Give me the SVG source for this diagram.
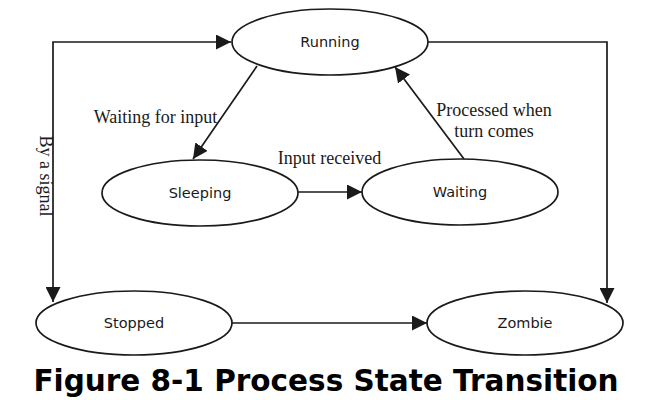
<svg xmlns="http://www.w3.org/2000/svg" width="656" height="400" viewBox="0 0 656 400">
<style>
.node{fill:#fff;stroke:#1a1a1a;stroke-width:1.7}
.lbl{font-family:"DejaVu Sans",sans-serif;font-size:14.5px;fill:#1a1a1a;text-anchor:middle}
.edge{fill:none;stroke:#1a1a1a;stroke-width:1.7}
.elbl{font-family:"Liberation Serif",serif;font-size:18px;fill:#1a1a1a;text-anchor:middle}
.cap{font-family:"DejaVu Sans",sans-serif;font-size:29.5px;font-weight:bold;fill:#000;text-anchor:middle}
</style>
<defs>
<marker id="arr" markerUnits="userSpaceOnUse" markerWidth="15" markerHeight="15" refX="14" refY="7" orient="auto-start-reverse" viewBox="0 0 14 14">
<path d="M0,0 L14,7 L0,14 z" fill="#1a1a1a"/>
</marker>
</defs>
<rect width="656" height="400" fill="#fff"/>
<g id="connectors">
<path class="edge" d="M231,42 L53,42 L53,302" marker-start="url(#arr)" marker-end="url(#arr)"/>
<path class="edge" d="M428,42 L607,42 L607,303" marker-end="url(#arr)"/>
<path class="edge" d="M257,66 L193,159" marker-end="url(#arr)"/>
<path class="edge" d="M298,192 L362,192" marker-end="url(#arr)"/>
<path class="edge" d="M464,159 L395,67" marker-end="url(#arr)"/>
<path class="edge" d="M232,323 L427,323" marker-end="url(#arr)"/>
<text class="elbl" x="155.5" y="123">Waiting for input</text>
<text class="elbl" x="329.5" y="164">Input received</text>
<text class="elbl" x="494" y="116">Processed when</text>
<text class="elbl" x="494" y="137">turn comes</text>
<text class="elbl" transform="translate(40,176) rotate(90)">By a signal</text>
</g>
<g id="running"><ellipse class="node" cx="330" cy="42" rx="98" ry="33"/><text class="lbl" x="330" y="47">Running</text></g>
<g id="sleeping"><ellipse class="node" cx="200" cy="193" rx="98" ry="33"/><text class="lbl" x="200" y="198">Sleeping</text></g>
<g id="waiting"><ellipse class="node" cx="460" cy="192" rx="98" ry="33"/><text class="lbl" x="460" y="197">Waiting</text></g>
<g id="stopped"><ellipse class="node" cx="134" cy="323" rx="98" ry="32"/><text class="lbl" x="134" y="328">Stopped</text></g>
<g id="zombie"><ellipse class="node" cx="525" cy="323" rx="98" ry="32"/><text class="lbl" x="525" y="328">Zombie</text></g>
<text class="cap" x="326" y="391">Figure 8-1 Process State Transition</text>
</svg>
